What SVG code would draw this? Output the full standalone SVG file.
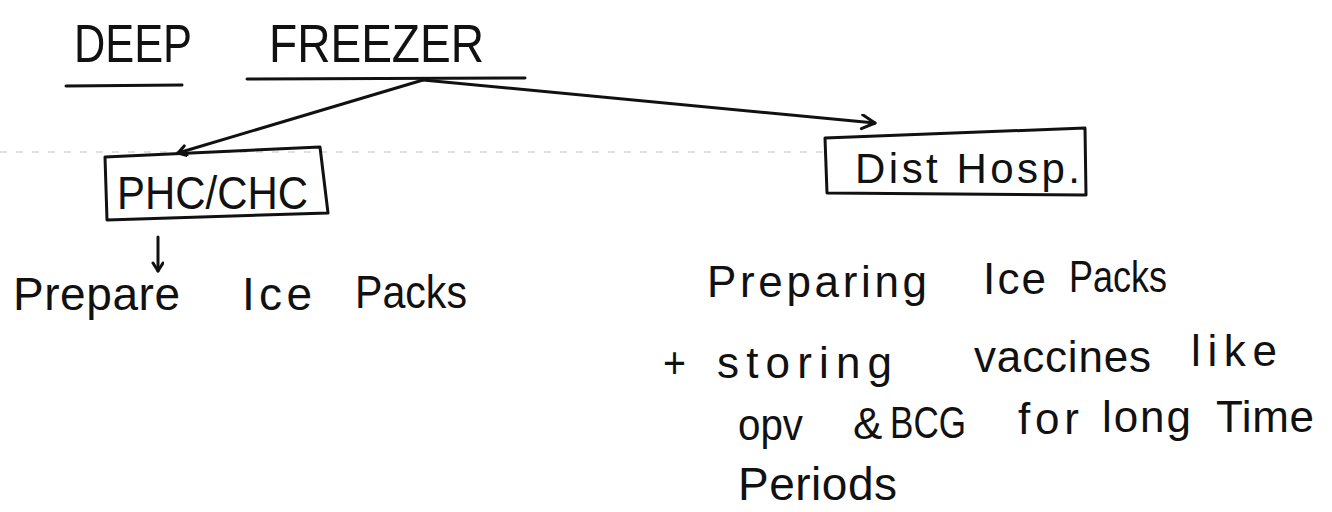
<svg xmlns="http://www.w3.org/2000/svg" width="1332" height="512" viewBox="0 0 1332 512">
<style>
.t{font-family:"Liberation Sans",Arial,sans-serif;fill:#111;}
.ln{stroke:#111;stroke-width:3;fill:none;stroke-linecap:round;stroke-linejoin:round;}
.box{stroke:#111;stroke-width:3;fill:none;stroke-linejoin:round;}
</style>
<defs>
<marker id="ah" markerWidth="20" markerHeight="20" refX="15" refY="8" orient="auto" markerUnits="userSpaceOnUse">
<path d="M2,1 L15,8 L2,15" fill="none" stroke="#111" stroke-width="3" stroke-linecap="round" stroke-linejoin="round"/>
</marker>
<marker id="ahs" markerWidth="14" markerHeight="14" refX="10" refY="6" orient="auto" markerUnits="userSpaceOnUse">
<path d="M2,1 L10,6 L2,11" fill="none" stroke="#111" stroke-width="3" stroke-linecap="round" stroke-linejoin="round"/>
</marker>
</defs>
<rect width="1332" height="512" fill="#fff"/>
<line x1="0" y1="152" x2="828" y2="152" stroke="#c4c4c4" stroke-width="1.2" stroke-dasharray="7 9"/>
<g id="title">
<text class="t" x="74" y="62" font-size="54" textLength="118" lengthAdjust="spacingAndGlyphs">DEEP</text>
<text class="t" x="269" y="62" font-size="54" textLength="215" lengthAdjust="spacingAndGlyphs">FREEZER</text>
<line class="ln" x1="66" y1="86" x2="182" y2="85"/>
<line class="ln" x1="247" y1="79" x2="525" y2="78"/>
</g>
<g id="connectors">
<path class="ln" d="M423,80 L178,153" marker-end="url(#ahs)"/>
<path class="ln" d="M423,80 L875,123" marker-end="url(#ah)"/>
<path class="ln" d="M158,237 L158,271" marker-end="url(#ahs)"/>
</g>
<g id="phc">
<path class="box" d="M105,157 L320,147 L328,213 L107,220 Z"/>
<text class="t" x="117" y="209" font-size="46" textLength="191" lengthAdjust="spacingAndGlyphs">PHC/CHC</text>
</g>
<g id="dist">
<path class="box" d="M825,138 L1085,128 L1086,195 L827,193 Z"/>
<text class="t" x="855" y="183" font-size="42" textLength="225" lengthAdjust="spacing">Dist Hosp.</text>
</g>
<g id="phc-note">
<text class="t" x="13" y="310" font-size="46" textLength="167" lengthAdjust="spacing">Prepare</text>
<text class="t" x="242" y="310" font-size="46" textLength="70" lengthAdjust="spacing">Ice</text>
<text class="t" x="355" y="308" font-size="46" textLength="112" lengthAdjust="spacingAndGlyphs">Packs</text>
</g>
<g id="dist-note">
<text class="t" x="707" y="297" font-size="44" textLength="220" lengthAdjust="spacing">Preparing</text>
<text class="t" x="983" y="294" font-size="44" textLength="63" lengthAdjust="spacing">Ice</text>
<text class="t" x="1069" y="292" font-size="44" textLength="98" lengthAdjust="spacingAndGlyphs">Packs</text>
<text class="t" x="663" y="378" font-size="44" textLength="23" lengthAdjust="spacingAndGlyphs">+</text>
<text class="t" x="717" y="378" font-size="44" textLength="175" lengthAdjust="spacing">storing</text>
<text class="t" x="974" y="372" font-size="44" textLength="177" lengthAdjust="spacing">vaccines</text>
<text class="t" x="1191" y="366" font-size="44" textLength="86" lengthAdjust="spacing">like</text>
<text class="t" x="738" y="440" font-size="44" textLength="65" lengthAdjust="spacingAndGlyphs">opv</text>
<text class="t" x="853" y="439" font-size="44">&amp;</text>
<text class="t" x="890" y="438" font-size="44" textLength="76" lengthAdjust="spacingAndGlyphs">BCG</text>
<text class="t" x="1018" y="434" font-size="44" textLength="61" lengthAdjust="spacing">for</text>
<text class="t" x="1102" y="432" font-size="44" textLength="89" lengthAdjust="spacing">long</text>
<text class="t" x="1216" y="432" font-size="44" textLength="98" lengthAdjust="spacing">Time</text>
<text class="t" x="738" y="500" font-size="46" textLength="159" lengthAdjust="spacing">Periods</text>
</g>
</svg>
